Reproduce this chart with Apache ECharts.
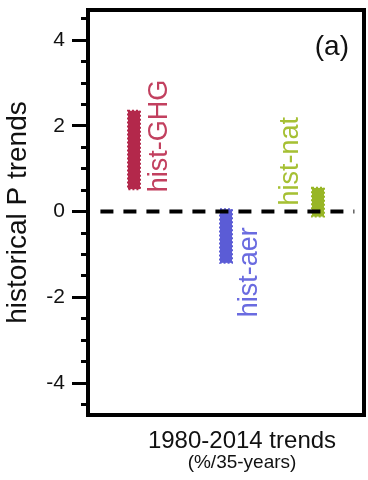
<!DOCTYPE html>
<html>
<head>
<meta charset="utf-8">
<script src="https://cdn.jsdelivr.net/npm/echarts@6/dist/echarts.min.js"></script>
<style>
  html, body { margin: 0; padding: 0; background: #fff; }
  #chart { width: 368px; height: 480px; }
</style>
</head>
<body>
<div id="chart"></div>
<script>
// experiment groups (x categories)
const categories = ['hist-GHG', 'hist-aer', 'hist-nat']
// range of ensemble trends, %/35-years
const lowValues = [0.52, -1.2, -0.12]
const highValues = [2.35, 0.05, 0.55]
const barColors = ['#b3284b', '#5b5cd6', '#98b626']
const textColors = ['#c2405f', '#6a6be0', '#a6c034']
// y ticks
const majorTicks = [-4, -2, 0, 2, 4]
const minorTicks = [-4.5, -3.5, -3, -2.5, -1.5, -1, -0.5, 0.5, 1, 1.5, 2.5, 3, 3.5, 4.5]
// zero reference line on the hidden 0..1 x axis
const zeroLine = [[0.045, 0], [0.965, 0]]

// label placement: side of bar, anchor value, text alignment
const labelPlace = [
  { dx: 26, at: 0.45, align: 'left' },
  { dx: 24, at: -0.37, align: 'right' },
  { dx: -27, at: 0.14, align: 'left' }
]

const font = 'Liberation Sans, Arial, Helvetica, sans-serif'

let myChart = echarts.init(document.getElementById('chart'))

let rangeSeries = categories.map(function (name, i) {
  return {
    name: name,
    type: 'custom',
    xAxisIndex: 0,
    yAxisIndex: 0,
    data: [[i, lowValues[i], highValues[i]]],
    renderItem: function (params, api) {
      let top = api.coord([api.value(0), api.value(2)])
      let bot = api.coord([api.value(0), api.value(1)])
      let lab = api.coord([api.value(0), labelPlace[i].at])
      let w = 12
      return {
        type: 'group',
        children: [
          {
            type: 'rect',
            shape: { x: top[0] - w / 2, y: top[1], width: w, height: bot[1] - top[1] },
            style: { fill: barColors[i], stroke: barColors[i], lineWidth: 2, lineDash: [2, 2] }
          },
          {
            type: 'text',
            x: lab[0] + labelPlace[i].dx,
            y: lab[1],
            rotation: Math.PI / 2,
            style: {
              text: name,
              fill: textColors[i],
              fontSize: 27,
              fontFamily: font,
              align: labelPlace[i].align,
              verticalAlign: 'middle'
            }
          }
        ]
      }
    }
  }
})

myChart.setOption({
  animation: false,
  title: {
    text: '(a)',
    right: 14,
    top: 28,
    textStyle: { fontSize: 28, fontWeight: 'normal', color: '#111', fontFamily: font }
  },
  grid: {
    show: true,
    left: 88,
    top: 10,
    width: 276,
    height: 405,
    outerBoundsMode: 'none',
    containLabel: false,
    borderColor: '#000',
    borderWidth: 4
  },
  xAxis: [
    {
      type: 'category',
      data: categories,
      boundaryGap: true,
      axisLine: { show: false },
      axisTick: { show: false },
      axisLabel: { show: false },
      splitLine: { show: false },
      name: '{a|1980-2014 trends}\n{b|(%/35-years)}',
      nameLocation: 'middle',
      nameGap: 16,
      nameTextStyle: {
        verticalAlign: 'top',
        padding: [0, 0, 0, 32],
        rich: {
          a: { fontSize: 24, color: '#111', fontFamily: font, lineHeight: 21 },
          b: { fontSize: 19, color: '#111', fontFamily: font, lineHeight: 21 }
        }
      }
    },
    {
      type: 'value',
      min: 0,
      max: 1,
      show: false
    }
  ],
  yAxis: [
    {
      type: 'value',
      min: -4.75,
      max: 4.7,
      position: 'left',
      axisLine: { show: true, lineStyle: { color: '#000', width: 4 } },
      axisTick: { show: true, length: 16, customValues: majorTicks, lineStyle: { color: '#000', width: 3 } },
      axisLabel: { customValues: majorTicks, fontSize: 21, color: '#111', fontFamily: font, margin: 23 },
      splitLine: { show: false },
      name: 'historical P trends',
      nameLocation: 'middle',
      nameGap: 56,
      nameTextStyle: { fontSize: 28, color: '#111', fontFamily: font }
    },
    {
      type: 'value',
      min: -4.75,
      max: 4.7,
      position: 'left',
      axisLine: { show: false },
      axisTick: { show: true, length: 7, customValues: minorTicks, lineStyle: { color: '#000', width: 3 } },
      axisLabel: { show: false },
      splitLine: { show: false }
    }
  ],
  series: rangeSeries.concat([
    {
      type: 'line',
      xAxisIndex: 1,
      yAxisIndex: 0,
      data: zeroLine,
      symbol: 'none',
      silent: true,
      lineStyle: { color: '#000', width: 4, type: [13, 10] }
    }
  ])
})
</script>
</body>
</html>
